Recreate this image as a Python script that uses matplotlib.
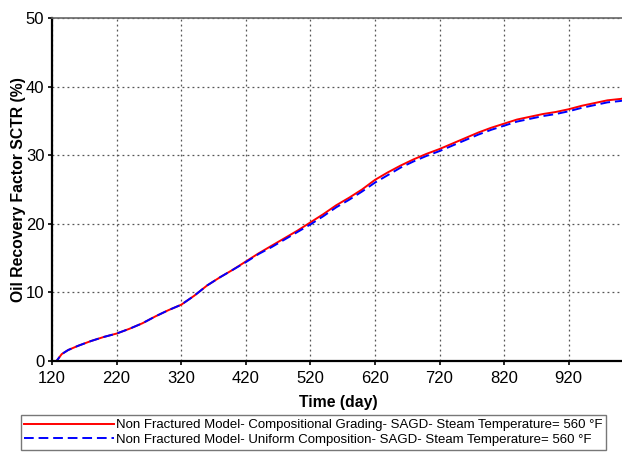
import matplotlib.pyplot as plt

plt.rcParams['font.family'] = ['Liberation Sans', 'DejaVu Sans']

# time (day) and oil recovery factor (%)
days = [120, 127, 135, 145, 160, 180, 200, 220, 240, 260, 280, 300, 320, 340,
        360, 380, 400, 420, 440, 460, 480, 500, 520, 540, 560, 580, 600, 620,
        640, 660, 680, 700, 720, 740, 760, 780, 800, 820, 840, 860, 880, 900,
        920, 940, 960, 980, 1000, 1006]
rf_graded = [0, 0, 1.0, 1.6, 2.2, 2.9, 3.5, 4.0, 4.7, 5.5, 6.5, 7.4, 8.2, 9.5,
             11.0, 12.2, 13.3, 14.5, 15.7, 16.8, 17.9, 19.0, 20.2, 21.4, 22.7, 23.8, 25.0, 26.4,
             27.5, 28.5, 29.4, 30.2, 30.9, 31.7, 32.5, 33.3, 34.0, 34.6, 35.2, 35.6, 36.0, 36.3,
             36.7, 37.2, 37.6, 38.0, 38.2, 38.3]
rf_uniform = [0, 0, 1.0, 1.6, 2.2, 2.9, 3.5, 4.0, 4.7, 5.5, 6.5, 7.4, 8.2, 9.5,
              11.0, 12.2, 13.3, 14.4, 15.6, 16.6, 17.7, 18.8, 19.9, 21.1, 22.4, 23.5, 24.7, 26.0,
              27.1, 28.2, 29.1, 29.9, 30.6, 31.4, 32.2, 33.0, 33.7, 34.3, 34.9, 35.3, 35.7, 36.0,
              36.4, 36.9, 37.3, 37.7, 37.9, 38.0]

label_graded = "Non Fractured Model- Compositional Grading- SAGD- Steam Temperature= 560 °F"
label_uniform = "Non Fractured Model- Uniform Composition- SAGD- Steam Temperature= 560 °F"

fig = plt.figure(figsize=(6.22, 4.59), dpi=100)
ax = fig.add_axes([0.0836, 0.2135, 0.92, 0.7473])

ax.plot(days, rf_graded, color='red', lw=1.4, label=label_graded)
ax.plot(days, rf_uniform, color='blue', lw=1.4, ls=(0, (5, 2.5)), label=label_uniform)

ax.set_xlim(120, 1006)
ax.set_ylim(0, 50)
ax.set_xticks(range(120, 1000, 100))
ax.set_yticks(range(0, 51, 10))
ax.grid(True, color='#555555', ls=(0, (1.5, 2.5)), lw=0.9)
ax.tick_params(labelsize=12, length=3, width=1.2, color='black')
ax.tick_params(axis='x', pad=4.5)
ax.tick_params(axis='y', pad=2.5)

for side in ['left', 'bottom']:
    ax.spines[side].set_linewidth(1.6)
ax.spines['top'].set_color('#666666')
ax.spines['top'].set_linewidth(1.2)
ax.spines['right'].set_visible(False)

ax.set_xlabel("Time (day)", fontsize=11.3, fontweight='bold', labelpad=6)
ax.set_ylabel("Oil Recovery Factor SCTR (%)", fontsize=11.3, fontweight='bold', labelpad=0)

leg = fig.legend(loc='upper left', bbox_to_anchor=(0.033, 0.096), fontsize=9.5,
                 handlelength=6.8, handletextpad=0.1, borderpad=0.3, labelspacing=0.2,
                 fancybox=False, edgecolor='#777777', framealpha=1, borderaxespad=0)
leg.get_frame().set_linewidth(1.0)

fig.savefig('out.png', dpi=100)
